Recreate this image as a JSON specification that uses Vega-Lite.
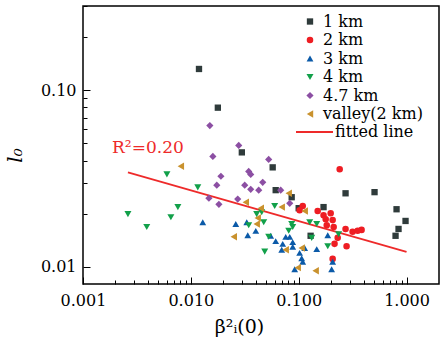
{
"$schema": "https://vega.github.io/schema/vega-lite/v6.json",
"width": 356, "height": 278,
"autosize": {"type": "none"},
"padding": {"left": 83, "top": 6, "right": 7, "bottom": 63},
"background": "white",
"config": {
  "font": "DejaVu Serif",
  "view": {"stroke": "black", "strokeWidth": 1.5},
  "axis": {"domain": false, "grid": false, "labelFont": "DejaVu Serif", "labelFontSize": 16, "labelColor": "black", "tickColor": "black", "tickWidth": 1, "titleFont": "DejaVu Serif", "titleFontWeight": "normal", "titleColor": "black", "labelOverlap": false, "labelFlush": false},
  "legend": {"labelFont": "DejaVu Serif", "labelFontSize": 16, "labelColor": "black", "padding": 0}
},
"datasets": {
  "points": [
    {"series": "1 km", "x": 0.0119, "y": 0.132},
    {"series": "1 km", "x": 0.0178, "y": 0.0797},
    {"series": "1 km", "x": 0.0297, "y": 0.0445},
    {"series": "1 km", "x": 0.0574, "y": 0.0366},
    {"series": "1 km", "x": 0.0612, "y": 0.0272},
    {"series": "1 km", "x": 0.0861, "y": 0.0248},
    {"series": "1 km", "x": 0.100, "y": 0.0215},
    {"series": "1 km", "x": 0.170, "y": 0.0218},
    {"series": "1 km", "x": 0.129, "y": 0.0150},
    {"series": "1 km", "x": 0.272, "y": 0.0261},
    {"series": "1 km", "x": 0.505, "y": 0.0265},
    {"series": "1 km", "x": 0.808, "y": 0.0212},
    {"series": "1 km", "x": 0.979, "y": 0.0182},
    {"series": "1 km", "x": 0.843, "y": 0.0164},
    {"series": "1 km", "x": 0.791, "y": 0.0150},
    {"series": "2 km", "x": 0.240, "y": 0.0357},
    {"series": "2 km", "x": 0.109, "y": 0.0221},
    {"series": "2 km", "x": 0.102, "y": 0.0209},
    {"series": "2 km", "x": 0.150, "y": 0.0207},
    {"series": "2 km", "x": 0.170, "y": 0.0196},
    {"series": "2 km", "x": 0.198, "y": 0.0201},
    {"series": "2 km", "x": 0.178, "y": 0.0186},
    {"series": "2 km", "x": 0.2065, "y": 0.0184},
    {"series": "2 km", "x": 0.182, "y": 0.0172},
    {"series": "2 km", "x": 0.211, "y": 0.0168},
    {"series": "2 km", "x": 0.272, "y": 0.0164},
    {"series": "2 km", "x": 0.316, "y": 0.0158},
    {"series": "2 km", "x": 0.352, "y": 0.0160},
    {"series": "2 km", "x": 0.383, "y": 0.0162},
    {"series": "2 km", "x": 0.230, "y": 0.0146},
    {"series": "2 km", "x": 0.215, "y": 0.0135},
    {"series": "2 km", "x": 0.278, "y": 0.0131},
    {"series": "2 km", "x": 0.2065, "y": 0.0111},
    {"series": "3 km", "x": 0.0129, "y": 0.0179},
    {"series": "3 km", "x": 0.0261, "y": 0.0175},
    {"series": "3 km", "x": 0.033, "y": 0.0179},
    {"series": "3 km", "x": 0.0337, "y": 0.0151},
    {"series": "3 km", "x": 0.040, "y": 0.0160},
    {"series": "3 km", "x": 0.055, "y": 0.0150},
    {"series": "3 km", "x": 0.0612, "y": 0.0140},
    {"series": "3 km", "x": 0.0711, "y": 0.0135},
    {"series": "3 km", "x": 0.0696, "y": 0.0125},
    {"series": "3 km", "x": 0.0758, "y": 0.0148},
    {"series": "3 km", "x": 0.0826, "y": 0.0148},
    {"series": "3 km", "x": 0.088, "y": 0.0138},
    {"series": "3 km", "x": 0.088, "y": 0.0130},
    {"series": "3 km", "x": 0.102, "y": 0.0120},
    {"series": "3 km", "x": 0.1066, "y": 0.0112},
    {"series": "3 km", "x": 0.109, "y": 0.0107},
    {"series": "3 km", "x": 0.0918, "y": 0.0097},
    {"series": "3 km", "x": 0.147, "y": 0.0126},
    {"series": "3 km", "x": 0.1137, "y": 0.0128},
    {"series": "3 km", "x": 0.186, "y": 0.0151},
    {"series": "3 km", "x": 0.2065, "y": 0.0107},
    {"series": "3 km", "x": 0.202, "y": 0.0097},
    {"series": "4 km", "x": 0.00261, "y": 0.0199},
    {"series": "4 km", "x": 0.0039, "y": 0.0168},
    {"series": "4 km", "x": 0.0060, "y": 0.0334},
    {"series": "4 km", "x": 0.00653, "y": 0.0191},
    {"series": "4 km", "x": 0.00758, "y": 0.0218},
    {"series": "4 km", "x": 0.0116, "y": 0.0282},
    {"series": "4 km", "x": 0.0408, "y": 0.0199},
    {"series": "4 km", "x": 0.0454, "y": 0.0204},
    {"series": "4 km", "x": 0.0344, "y": 0.0172},
    {"series": "4 km", "x": 0.0474, "y": 0.0179},
    {"series": "4 km", "x": 0.0599, "y": 0.0221},
    {"series": "4 km", "x": 0.0527, "y": 0.0148},
    {"series": "4 km", "x": 0.0484, "y": 0.0122},
    {"series": "4 km", "x": 0.0861, "y": 0.0175},
    {"series": "4 km", "x": 0.0808, "y": 0.0160},
    {"series": "4 km", "x": 0.088, "y": 0.0168},
    {"series": "4 km", "x": 0.132, "y": 0.0146},
    {"series": "4 km", "x": 0.1265, "y": 0.0179},
    {"series": "4 km", "x": 0.147, "y": 0.0175},
    {"series": "4 km", "x": 0.2345, "y": 0.0153},
    {"series": "4 km", "x": 0.186, "y": 0.0131},
    {"series": "4.7 km", "x": 0.0150, "y": 0.0631},
    {"series": "4.7 km", "x": 0.0278, "y": 0.0487},
    {"series": "4.7 km", "x": 0.016, "y": 0.0422},
    {"series": "4.7 km", "x": 0.0527, "y": 0.0406},
    {"series": "4.7 km", "x": 0.0344, "y": 0.0347},
    {"series": "4.7 km", "x": 0.0359, "y": 0.0334},
    {"series": "4.7 km", "x": 0.019, "y": 0.0326},
    {"series": "4.7 km", "x": 0.0174, "y": 0.0290},
    {"series": "4.7 km", "x": 0.0316, "y": 0.0290},
    {"series": "4.7 km", "x": 0.0359, "y": 0.0275},
    {"series": "4.7 km", "x": 0.0147, "y": 0.0245},
    {"series": "4.7 km", "x": 0.0272, "y": 0.0242},
    {"series": "4.7 km", "x": 0.0182, "y": 0.0226},
    {"series": "4.7 km", "x": 0.0464, "y": 0.0301},
    {"series": "4.7 km", "x": 0.0426, "y": 0.0272},
    {"series": "4.7 km", "x": 0.0681, "y": 0.0272},
    {"series": "4.7 km", "x": 0.0826, "y": 0.0229},
    {"series": "valley(2 km)", "x": 0.00808, "y": 0.0371},
    {"series": "valley(2 km)", "x": 0.0323, "y": 0.0232},
    {"series": "valley(2 km)", "x": 0.0445, "y": 0.0215},
    {"series": "valley(2 km)", "x": 0.0417, "y": 0.0189},
    {"series": "valley(2 km)", "x": 0.0408, "y": 0.0175},
    {"series": "valley(2 km)", "x": 0.025, "y": 0.0148},
    {"series": "valley(2 km)", "x": 0.0808, "y": 0.0261},
    {"series": "valley(2 km)", "x": 0.0696, "y": 0.0218},
    {"series": "valley(2 km)", "x": 0.1137, "y": 0.0207},
    {"series": "valley(2 km)", "x": 0.0758, "y": 0.0125},
    {"series": "valley(2 km)", "x": 0.1066, "y": 0.0128},
    {"series": "valley(2 km)", "x": 0.098, "y": 0.0099},
    {"series": "valley(2 km)", "x": 0.1436, "y": 0.0095}
  ],
  "fit": [
    {"label": "fitted line", "x": 0.00261, "y": 0.0343},
    {"label": "fitted line", "x": 1.0, "y": 0.01215}
  ],
  "note": [
    {"x": 0.004, "y": 0.047, "text": "R²=0.20"}
  ]
},
"encoding": {
  "x": {"field": "x", "type": "quantitative",
    "scale": {"type": "log", "domain": [0.001, 2], "nice": false},
    "axis": {"title": "β²ᵢ(0)", "titleFontSize": 19, "titleX": 156, "titleY": 33,
      "values": [0.001,0.002,0.003,0.004,0.005,0.006,0.007,0.008,0.009,0.01,0.02,0.03,0.04,0.05,0.06,0.07,0.08,0.09,0.1,0.2,0.3,0.4,0.5,0.6,0.7,0.8,0.9,1],
      "format": ".3f",
      "labelExpr": "abs(log(datum.value)/LN10 - round(log(datum.value)/LN10)) < 0.000001 ? datum.label : ''",
      "tickSize": {"condition": {"test": "abs(log(datum.value)/LN10 - round(log(datum.value)/LN10)) < 0.000001", "value": -7}, "value": -4},
      "labelPadding": 15}},
  "y": {"field": "y", "type": "quantitative",
    "scale": {"type": "log", "domain": [0.008, 0.3], "nice": false},
    "axis": {"title": "l₀", "titleFontSize": 20, "titleFontStyle": "italic", "titleX": -58, "titleY": 149,
      "values": [0.01,0.02,0.03,0.04,0.05,0.06,0.07,0.08,0.09,0.1,0.2,0.3],
      "format": ".2f",
      "labelExpr": "abs(log(datum.value)/LN10 - round(log(datum.value)/LN10)) < 0.000001 ? datum.label : ''",
      "tickSize": {"condition": {"test": "abs(log(datum.value)/LN10 - round(log(datum.value)/LN10)) < 0.000001", "value": -7}, "value": -4},
      "labelPadding": 14}}
},
"layer": [
  {"data": {"name": "fit"},
   "mark": {"type": "line", "strokeWidth": 1.8},
   "encoding": {
     "stroke": {"field": "label", "type": "nominal",
       "scale": {"domain": ["fitted line"], "range": ["#ee2a2a"]},
       "legend": {"title": null, "orient": "none", "legendX": 212, "legendY": 106.5, "symbolType": "stroke", "symbolSize": 1369, "symbolStrokeWidth": 1.8, "labelOffset": 1}}
   }},
  {"data": {"name": "points"},
   "mark": {"type": "point", "filled": true, "opacity": 1},
   "encoding": {
     "color": {"field": "series", "type": "nominal",
       "scale": {"domain": ["1 km","2 km","3 km","4 km","4.7 km","valley(2 km)"], "range": ["#2f3b3b","#ee1d23","#0b5aa8","#12a04a","#8c4fa3","#c9922e"]},
       "legend": {"title": null, "orient": "none", "legendX": 219, "legendY": 7.5, "labelOffset": 5, "rowPadding": 2.5}},
     "shape": {"field": "series", "type": "nominal",
       "scale": {"domain": ["1 km","2 km","3 km","4 km","4.7 km","valley(2 km)"], "range": ["square","circle","triangle-up","triangle-down","diamond","triangle-left"]}},
     "size": {"field": "series", "type": "nominal",
       "scale": {"domain": ["1 km","2 km","3 km","4 km","4.7 km","valley(2 km)"], "range": [40, 55, 100, 100, 60, 90]}}
   }},
  {"data": {"name": "note"},
   "mark": {"type": "text", "color": "#ee2a2a", "fontSize": 17, "font": "DejaVu Serif"},
   "encoding": {"text": {"field": "text"}}}
]
}
